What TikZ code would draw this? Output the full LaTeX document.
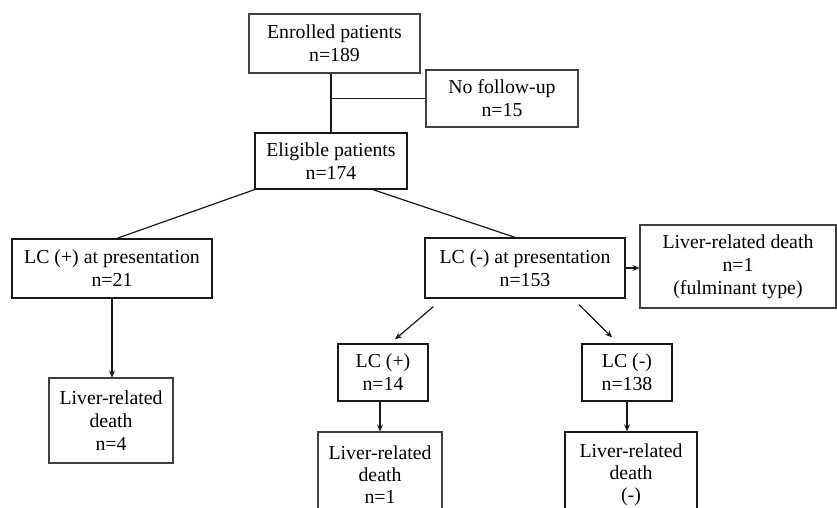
\documentclass[tikz,border=0pt]{standalone}
\usepackage{fontspec}
\setmainfont{Liberation Serif}
\usetikzlibrary{arrows.meta}
\begin{document}
\begin{tikzpicture}[x=1pt,y=-1pt,
  box/.style={draw=black!90,line width=1.3pt,align=center,inner sep=0pt,
    font=\fontsize{19.8}{23}\selectfont},
  lbox/.style={box,draw=black!75,line width=1.1pt},
  conn/.style={draw=black!90,line width=1.2pt},
  arr/.style={conn,-{Stealth[length=7pt,width=6pt]}}]
\clip (0,0) rectangle (837,507);
\fill[white] (0,0) rectangle (837,507);
\node[lbox,minimum width=171pt,minimum height=59pt] (enr) at (334.5,43.5) {Enrolled patients\\n=189};
\node[lbox,minimum width=152pt,minimum height=57pt] (nofu) at (502,98.5) {No follow-up\\n=15};
\node[box,minimum width=152pt,minimum height=56pt] (elig) at (331,161) {Eligible patients\\n=174};
\node[box,minimum width=200pt,minimum height=59pt] (lcp) at (112,268.5) {LC (+) at presentation\\n=21};
\node[box,minimum width=200pt,minimum height=60pt] (lcm) at (525,268) {LC (-) at presentation\\n=153};
\node[lbox,minimum width=196pt,minimum height=83pt] (ful) at (738,266.5) {Liver-related death\\n=1\\(fulminant type)};
\node[box,minimum width=90pt,minimum height=57pt] (lcp14) at (383,372.5) {LC (+)\\n=14};
\node[box,minimum width=90pt,minimum height=57pt] (lcm138) at (627,372.5) {LC (-)\\n=138};
\node[lbox,minimum width=124pt,minimum height=85pt] (d4) at (111,420.5) {Liver-related\\death\\n=4};
\node[lbox,minimum width=124pt,minimum height=86pt,font=\fontsize{19.8}{22}\selectfont] (d1) at (380,475) {Liver-related\\death\\n=1};
\node[box,minimum width=132pt,minimum height=86pt,font=\fontsize{19.8}{22}\selectfont] (d138) at (631,475) {Liver-related\\death\\(-)};
% connectors
\draw[conn] (elig.north |- enr.south) -- (elig.north);
\draw[conn] (elig.north |- nofu.west) -- (nofu.west);
\draw[conn] (elig.south west) -- ([xshift=5pt]lcp.north);
\draw[conn] ([xshift=42pt]elig.south) -- ([xshift=-10pt]lcm.north);
\draw[arr] (lcm.east) -- (lcm.east -| ful.west);
\draw[arr] ([shift={(9,8)}]lcm.south west) -- ([shift={(12,-4)}]lcp14.north);
\draw[arr] ([shift={(54,6)}]lcm.south) -- ([shift={(-15,-6)}]lcm138.north);
\draw[arr] (lcp.south) -- (lcp.south |- d4.north);
\draw[arr] (d1.north |- lcp14.south) -- (d1.north);
\draw[arr] (lcm138.south) -- (lcm138.south |- d138.north);
\end{tikzpicture}
\end{document}
